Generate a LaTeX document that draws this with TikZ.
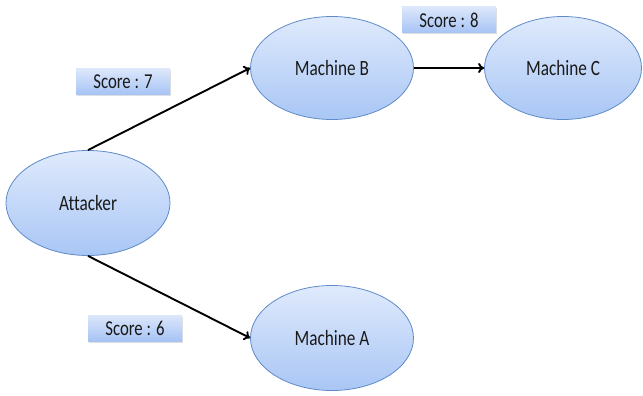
\documentclass[tikz,border=0pt]{standalone}
\usepackage{graphicx}
\usepackage{fontspec}
\setmainfont{Carlito}[Ligatures=NoCommon]
\usetikzlibrary{shapes.geometric,arrows.meta,shadows}
\definecolor{ellborder}{HTML}{5F8BC8}
\definecolor{elltop}{HTML}{DFEAFC}
\definecolor{ellbot}{HTML}{A9C6F5}
\definecolor{boxtop}{HTML}{DCE7FB}
\definecolor{boxbot}{HTML}{A6C3F4}
\definecolor{txt}{HTML}{1A1A1A}
\newcommand{\narrowtext}[1]{\scalebox{0.79}[1]{#1}}
\tikzset{
  machine/.style={ellipse, draw=ellborder, line width=0.8pt, top color=elltop, bottom color=ellbot,
    minimum width=163pt, minimum height=103pt, inner sep=0pt, text=txt, font=\fontsize{21.8}{24}\selectfont},
  scorebox/.style={rectangle, top color=boxtop, bottom color=boxbot, minimum width=94pt, minimum height=26pt,
    inner sep=0pt, text=txt, font=\fontsize{21.2}{23}\selectfont, drop shadow={shadow xshift=1pt, shadow yshift=-1.5pt, opacity=0.25}},
  link/.style={line width=1.9pt, -{To[length=6pt,width=10pt,line width=1.9pt]}}
}
\begin{document}
\begin{tikzpicture}[x=1pt,y=-1pt]
\useasboundingbox (0,0) rectangle (643,396);
\node[machine, minimum width=164pt, minimum height=105pt] (att) at (88,203) {\narrowtext{Attacker}};
\node[machine] (mb) at (332,68) {\narrowtext{Machine B}};
\node[machine, minimum width=157pt] (mc) at (563,68) {\narrowtext{Machine C}};
\node[machine, minimum height=105pt] (ma) at (332,338) {\narrowtext{Machine A}};
\node[scorebox] (s7) at (123,82) {\narrowtext{Score : 7}};
\node[scorebox] (s8) at (449,20) {\narrowtext{Score : 8}};
\node[scorebox] (s6) at (135,328) {\narrowtext{Score : 6}};
\draw[link] (att.north) -- (mb.west);
\draw[link] (att.south) -- (ma.west);
\draw[link] (mb.east) -- (mc.west);
\end{tikzpicture}
\end{document}
